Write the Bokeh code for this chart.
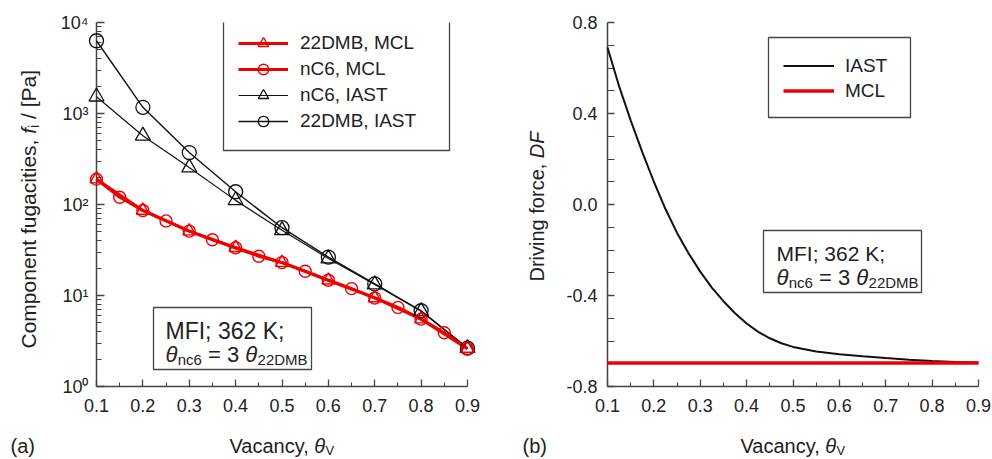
import math
from bokeh.plotting import figure
from bokeh.models import (Range1d, FixedTicker, BoxAnnotation, Legend,
                          LegendItem, NumeralTickFormatter)
from bokeh.core.properties import value
from bokeh.layouts import row
from bokeh.embed import file_html
from bokeh.resources import INLINE

# ---------------- data ----------------
theta_iast = [0.1, 0.2, 0.3, 0.4, 0.5, 0.6, 0.7, 0.8, 0.9]
f_22dmb_iast = [6300, 1170, 372, 138, 55.6, 26.4, 13.4, 6.8, 2.64]
f_nc6_iast = [1530, 569, 255, 111, 52, 25.5, 13.2, 6.7, 2.64]

theta_22dmb_mcl = [0.1, 0.2, 0.3, 0.4, 0.5, 0.6, 0.7, 0.8, 0.9]
f_22dmb_mcl = [190, 86, 51, 33.5, 23, 14.7, 9.4, 5.5, 2.6]

theta_nc6_mcl = [0.1, 0.15, 0.2, 0.25, 0.3, 0.35, 0.4, 0.45, 0.5, 0.55,
                 0.6, 0.65, 0.7, 0.75, 0.8, 0.85, 0.9]
f_nc6_mcl = [190, 120, 86, 66, 51, 41, 33.5, 27, 23, 18.5,
             14.7, 11.9, 9.4, 7.4, 5.5, 3.9, 2.6]

theta_df = [0.1, 0.125, 0.15, 0.175, 0.2, 0.225, 0.25, 0.275, 0.3, 0.325,
            0.35, 0.375, 0.4, 0.425, 0.45, 0.475, 0.5, 0.55, 0.6, 0.65,
            0.7, 0.75, 0.8, 0.85, 0.9]
df_iast = [0.69, 0.52, 0.37, 0.23, 0.10, -0.02, -0.125, -0.215, -0.295, -0.365,
           -0.425, -0.478, -0.523, -0.56, -0.588, -0.61, -0.626, -0.646, -0.658, -0.667,
           -0.675, -0.682, -0.688, -0.692, -0.695]
theta_df_mcl = [0.1, 0.9]
df_mcl = [-0.697, -0.697]

x_ticks = [0.1, 0.2, 0.3, 0.4, 0.5, 0.6, 0.7, 0.8, 0.9]
x_minor = [0.15, 0.25, 0.35, 0.45, 0.55, 0.65, 0.75, 0.85]
y1_ticks = [1, 10, 100, 1000, 10000]
y1_tick_labels = ["10\u2070", "10\u00b9", "10\u00b2", "10\u00b3", "10\u2074"]
y2_ticks = [-0.8, -0.4, 0.0, 0.4, 0.8]
y2_minor = [-0.7, -0.6, -0.5, -0.3, -0.2, -0.1, 0.1, 0.2, 0.3, 0.5, 0.6, 0.7]

legend1_labels = ["22DMB, MCL", "nC6, MCL", "nC6, IAST", "22DMB, IAST"]
legend2_labels = ["IAST", "MCL"]

# ---------------- style ----------------
FONT = "Liberation Sans"
RED = "#ee0000"
BLACK = "#111111"
AXC = "#444444"
TXT = "#222222"

CW = {' ': 278, ',': 278, '.': 278, '/': 278, '[': 278, ']': 278, '(': 333,
      ')': 333, ';': 278, '=': 584, 'A': 667, 'B': 667, 'C': 722, 'D': 722,
      'F': 611, 'I': 278, 'K': 667, 'M': 833, 'P': 667, 'S': 667, 'T': 611,
      'V': 667, 'a': 556, 'c': 500, 'e': 556, 'f': 278, 'g': 556, 'i': 222,
      'm': 833, 'n': 556, 'o': 556, 'p': 556, 'r': 333, 's': 500, 't': 278,
      'u': 556, 'v': 500, 'y': 500, '\u03b8': 556}


def tw(s, size):
    return sum(CW.get(c, 556) for c in s) / 1000.0 * size


def lab(p, fx, fy, px, py, text, size, style="normal", angle=0.0):
    # px, py: page pixels; converted to data coordinates of this figure
    p.text(x=[fx(px)], y=[fy(py)], text=[text], angle=angle,
           text_font=value(FONT), text_font_size=value(f"{size}px"),
           text_font_style=value(style), text_align=value("left"),
           text_baseline=value("alphabetic"), text_color=TXT, level="overlay")


def hruns(p, fx, fy, px, py, runs):
    x = px
    for text, size, style, dy, kx in runs:
        x += kx
        lead = len(text) - len(text.lstrip())
        lab(p, fx, fy, x + tw(text[:lead], size), py + dy, text.strip(), size, style)
        x += tw(text, size)


def vruns(p, fx, fy, px, py, runs):
    y = py
    for text, size, style, dx in runs:
        lead = len(text) - len(text.lstrip())
        lab(p, fx, fy, px + dx, y - tw(text[:lead], size), text.strip(), size,
            style, angle=math.pi / 2)
        y -= tw(text, size)


def style_axes(p):
    p.outline_line_color = None
    p.grid.visible = False
    p.background_fill_color = "white"
    p.border_fill_color = "white"
    for ax in (p.xaxis[0], p.yaxis[0]):
        ax.axis_line_color = AXC
        ax.axis_line_width = 1.5
        ax.major_tick_line_color = AXC
        ax.minor_tick_line_color = AXC
        ax.major_tick_line_width = 1.3
        ax.minor_tick_line_width = 1.1
        ax.major_tick_out = 0
        ax.minor_tick_out = 0
        ax.major_label_text_font = FONT
        ax.major_label_text_font_size = "18px"
        ax.major_label_text_color = TXT
    p.xaxis.major_tick_in = 7
    p.xaxis.minor_tick_in = 4
    p.xaxis.major_label_standoff = 12
    p.yaxis.major_label_standoff = 8


H = 457
# ---------------- left plot ----------------
p1 = figure(width=497, height=H, x_range=Range1d(0.1, 0.9),
            y_range=Range1d(1, 10000), y_axis_type="log",
            output_backend="svg", toolbar_location=None,
            min_border_left=96, min_border_right=30, min_border_top=22,
            min_border_bottom=71)
style_axes(p1)
p1.xaxis.ticker = FixedTicker(ticks=x_ticks, minor_ticks=x_minor)
p1.xaxis.formatter = NumeralTickFormatter(format="0.0")
y1_minor = [m * d for d in (1, 10, 100, 1000) for m in range(2, 10)]
p1.yaxis.ticker = FixedTicker(ticks=y1_ticks, minor_ticks=y1_minor)
p1.yaxis.major_label_overrides = dict(zip(y1_ticks, y1_tick_labels))
p1.yaxis.major_tick_in = 8
p1.yaxis.minor_tick_in = 5

l_iast22 = p1.line(theta_iast, f_22dmb_iast, line_color=BLACK, line_width=1.4, level="overlay")
l_iastn = p1.line(theta_iast, f_nc6_iast, line_color=BLACK, line_width=1.2, level="overlay")
l_mcl22 = p1.line(theta_22dmb_mcl, f_22dmb_mcl, line_color=RED, line_width=3, level="overlay")
l_mcln = p1.line(theta_nc6_mcl, f_nc6_mcl, line_color=RED, line_width=3, level="overlay")
s_iast22 = p1.scatter(theta_iast, f_22dmb_iast, marker="circle", size=14,
                      line_color=BLACK, line_width=1.3, fill_color=None, level="overlay")
s_iastn = p1.scatter(theta_iast, f_nc6_iast, marker="triangle", size=15,
                     line_color=BLACK, line_width=1.3, fill_color=None, level="overlay")
s_mcln = p1.scatter(theta_nc6_mcl, f_nc6_mcl, marker="circle", size=12,
                    line_color=RED, line_width=1.4, fill_color=None, level="overlay")
s_mcl22 = p1.scatter(theta_22dmb_mcl, f_22dmb_mcl, marker="triangle", size=13,
                     line_color=RED, line_width=1.4, fill_color=None, level="overlay")

leg1 = Legend(items=[
    LegendItem(label=legend1_labels[0], renderers=[l_mcl22, s_mcl22]),
    LegendItem(label=legend1_labels[1], renderers=[l_mcln, s_mcln]),
    LegendItem(label=legend1_labels[2], renderers=[l_iastn, s_iastn]),
    LegendItem(label=legend1_labels[3], renderers=[l_iast22, s_iast22]),
], location=(142, 252), glyph_width=50, glyph_height=26, label_height=26,
    spacing=0, padding=0, margin=0, label_standoff=12,
    border_line_color=None, background_fill_alpha=0,
    label_text_font=FONT, label_text_font_size="19px", label_text_color=TXT)
p1.add_layout(leg1)


def lx(px):
    return 0.1 + (px - 96) / 371.0 * 0.8


def ly(py):
    return 10 ** (4 - (py - 22) / 364.0 * 4)


p1.add_layout(BoxAnnotation(left=lx(223), right=lx(449), top=ly(17), bottom=ly(150),
                            fill_alpha=0, line_color=AXC, line_width=1.3, line_alpha=1))
p1.add_layout(BoxAnnotation(left=lx(153), right=lx(311), top=ly(307), bottom=ly(369),
                            fill_alpha=0, line_color=AXC, line_width=1.3, line_alpha=1))
hruns(p1, lx, ly, 165, 330, [("MFI; 362 K;", 23, "normal", 0, 0)])
hruns(p1, lx, ly, 165, 354, [("\u03b8", 22, "italic", 0, 0), ("nc6", 15, "normal", 5, 0),
                             (" = 3 ", 22, "normal", 0, 0), ("\u03b8", 22, "italic", 0, 0),
                             ("22DMB", 15, "normal", 5, 0)])
# axis labels
hruns(p1, lx, ly, 229, 445, [("Vacancy, ", 20, "normal", 0, 0),
                             ("\u03b8", 20, "italic", 0, -3),
                             ("V", 13, "normal", 5, 0)])
vruns(p1, lx, ly, 28, 348, [("Component fugacities, ", 21, "normal", 0),
                            ("f", 21, "italic", 0), ("i", 14, "normal", 5),
                            (" / [Pa]", 21, "normal", 0)])
lab(p1, lx, ly, 10, 445, "(a)", 20)

# ---------------- right plot ----------------
p2 = figure(width=495, height=H, x_range=Range1d(0.1, 0.9),
            y_range=Range1d(-0.8, 0.8), output_backend="svg",
            toolbar_location=None, min_border_left=110, min_border_right=14,
            min_border_top=22, min_border_bottom=71)
style_axes(p2)
p2.xaxis.ticker = FixedTicker(ticks=x_ticks, minor_ticks=x_minor)
p2.xaxis.formatter = NumeralTickFormatter(format="0.0")
p2.yaxis.ticker = FixedTicker(ticks=y2_ticks, minor_ticks=y2_minor)
p2.yaxis.formatter = NumeralTickFormatter(format="0.0")
p2.yaxis.major_tick_in = 7
p2.yaxis.minor_tick_in = 7
p2.yaxis.major_label_standoff = 10

r_iast = p2.line(theta_df, df_iast, line_color=BLACK, line_width=2, level="overlay")
r_mcl = p2.line(theta_df_mcl, df_mcl, line_color=RED, line_width=3.5, level="overlay")

leg2 = Legend(items=[LegendItem(label=legend2_labels[0], renderers=[r_iast]),
                     LegendItem(label=legend2_labels[1], renderers=[r_mcl])],
              location=(176, 283), glyph_width=51, glyph_height=25, label_height=25,
              spacing=0, padding=0, margin=0, label_standoff=11,
              border_line_color=None, background_fill_alpha=0,
              label_text_font=FONT, label_text_font_size="19px", label_text_color=TXT)
p2.add_layout(leg2)


def rx(px):
    return 0.1 + (px - 607) / 371.0 * 0.8


def ry(py):
    return 0.8 - (py - 22) / 364.0 * 1.6


p2.add_layout(BoxAnnotation(left=rx(768), right=rx(910), top=ry(37), bottom=ry(117),
                            fill_alpha=0, line_color=AXC, line_width=1.3, line_alpha=1))
p2.add_layout(BoxAnnotation(left=rx(763), right=rx(921), top=ry(230), bottom=ry(292),
                            fill_alpha=0, line_color=AXC, line_width=1.3, line_alpha=1))
hruns(p2, rx, ry, 776, 253, [("MFI; 362 K;", 21, "normal", 0, 0)])
hruns(p2, rx, ry, 776, 277, [("\u03b8", 22, "italic", 0, 0), ("nc6", 15, "normal", 5, 0),
                             (" = 3 ", 22, "normal", 0, 0), ("\u03b8", 22, "italic", 0, 0),
                             ("22DMB", 15, "normal", 5, 0)])
hruns(p2, rx, ry, 740, 445, [("Vacancy, ", 20, "normal", 0, 0),
                             ("\u03b8", 20, "italic", 0, -3),
                             ("V", 13, "normal", 5, 0)])
vruns(p2, rx, ry, 536, 281, [("Driving force, ", 20, "normal", 0), ("DF", 20, "italic", 0)])
lab(p2, rx, ry, 522, 445, "(b)", 20)

layout = row(p1, p2)
open("out.html", "w").write(file_html(layout, INLINE))
